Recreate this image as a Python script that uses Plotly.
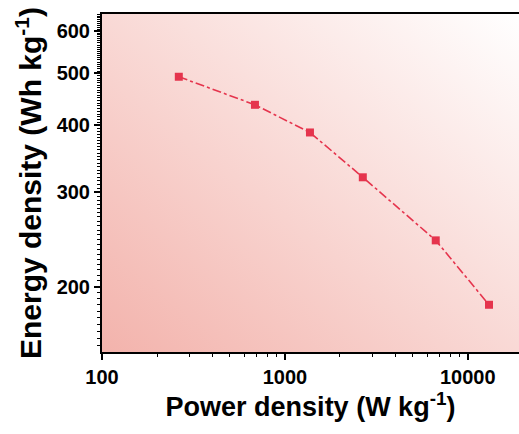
import base64
import plotly.graph_objects as go

power = [263, 686, 1371, 2667, 6680, 13060]
energy = [493, 437, 388, 320, 244, 185]

y_ticks = [200, 300, 400, 500, 600]
x_ticks = [100, 1000, 10000]
x_tick_text = ["100", "1000", "10000"]

svg = (
    '<svg xmlns="http://www.w3.org/2000/svg" width="400" height="300" preserveAspectRatio="none">'
    '<defs><linearGradient id="g" x1="0" y1="1" x2="1" y2="0">'
    '<stop offset="0" stop-color="#F3B3AC"/><stop offset="1" stop-color="#FFFFFF"/>'
    '</linearGradient></defs><rect width="400" height="300" fill="url(#g)"/></svg>'
)
svg_uri = "data:image/svg+xml;base64," + base64.b64encode(svg.encode()).decode()

color = "#E5344D"

fig = go.Figure()
fig.add_trace(go.Scatter(
    x=power, y=energy, mode="lines+markers",
    line=dict(color=color, width=1.6, dash="dashdot"),
    marker=dict(symbol="square", size=8, color=color),
    showlegend=False,
))

font_family = "Liberation Sans, Arial, sans-serif"

y_minor = [v for v in range(155, 650, 5) if v not in y_ticks]
x_minor = [m * d for d in (100, 1000, 10000) for m in range(2, 10)]

fig.update_layout(
    width=519, height=434,
    margin=dict(l=102, r=0, t=14, b=82),
    paper_bgcolor="white",
    plot_bgcolor="rgba(0,0,0,0)",
    font=dict(family=font_family, color="black"),
    images=[dict(source=svg_uri, xref="paper", yref="paper", x=0, y=1,
                 sizex=1, sizey=1, sizing="stretch", layer="below",
                 xanchor="left", yanchor="top")],
    xaxis=dict(
        type="log", range=[2, 4.28],
        tickvals=x_ticks, ticktext=x_tick_text,
        ticks="outside", ticklen=6, tickwidth=1.5, tickcolor="black",
        showline=True, linecolor="black", linewidth=2, mirror=True,
        showgrid=False, zeroline=False,
        tickfont=dict(size=20, family=font_family, weight="bold"),
        minor=dict(tickvals=x_minor, ticks="outside", ticklen=3, tickwidth=1.2,
                   tickcolor="black", showgrid=False),
        title=dict(text="Power density (W kg<sup>-1</sup>)",
                   font=dict(size=27, family=font_family, weight="bold"),
                   standoff=10),
    ),
    yaxis=dict(
        type="log", range=[2.179, 2.81],
        tickvals=y_ticks, ticktext=[str(v) for v in y_ticks],
        ticks="outside", ticklen=6, tickwidth=1.5, tickcolor="black",
        showline=True, linecolor="black", linewidth=2, mirror=False,
        showgrid=False, zeroline=False,
        tickfont=dict(size=20, family=font_family, weight="bold"),
        minor=dict(tickvals=y_minor, ticks="outside", ticklen=3, tickwidth=1,
                   tickcolor="black", showgrid=False),
        title=dict(text="Energy density (Wh kg<sup>-1</sup>)",
                   font=dict(size=30, family=font_family, weight="bold"),
                   standoff=6),
    ),
)

fig.write_html(
    "out.html",
    config={"displayModeBar": False},
    post_script="document.body.style.margin='0';document.body.style.overflow='hidden';",
)
